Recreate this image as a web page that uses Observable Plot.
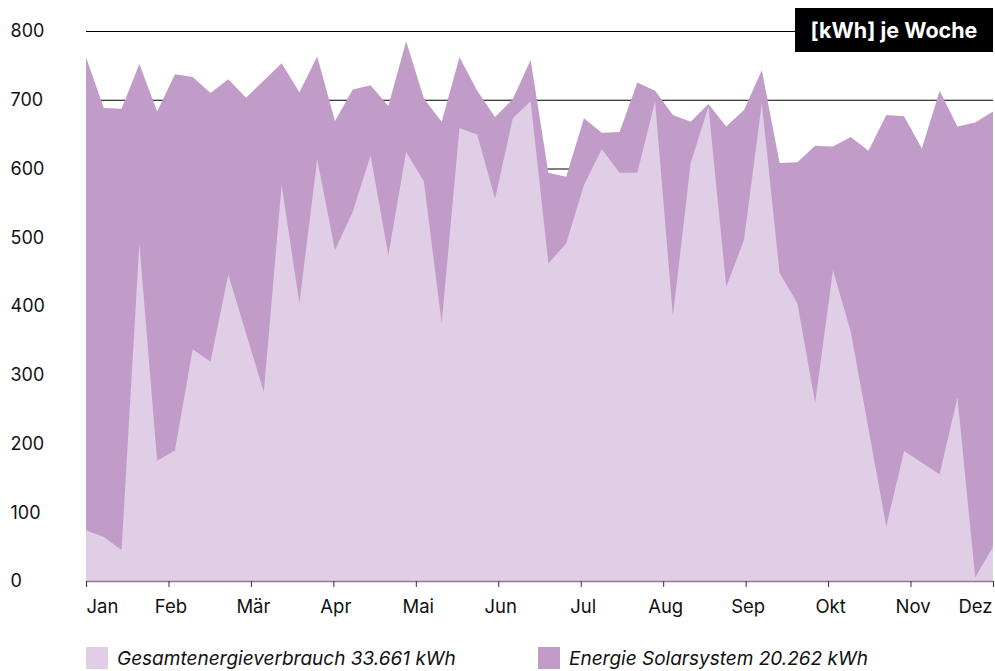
<!DOCTYPE html>
<html>
<head>
<meta charset="utf-8">
<script src="https://cdn.jsdelivr.net/npm/d3@7"></script>
<script src="https://cdn.jsdelivr.net/npm/@observablehq/plot@0.6"></script>
<style>
  body { margin: 0; background: #fff; font-family: Inter, "Open Sans", sans-serif; }
  #wrap { position: relative; width: 995px; height: 671px; overflow: hidden; }
  #title { position: absolute; left: 795px; top: 8px; width: 198px; height: 44px; background: #000; color: #fff;
           font-weight: 700; font-size: 21.5px; display: flex; align-items: center; justify-content: center; white-space: nowrap; }
  .leg { position: absolute; top: 647px; height: 22px; display: flex; align-items: center; font-style: italic; font-size: 19px; color: #111; white-space: nowrap; }
  .sw { width: 22px; height: 22px; margin-right: 9px; flex: none; }
</style>
</head>
<body>
<div id="wrap">
  <div id="chart"></div>
  <div id="title"></div>
  <div class="leg" id="leg1" style="left:86px"><div class="sw" id="sw1"></div><span id="lt1"></span></div>
  <div class="leg" id="leg2" style="left:538px"><div class="sw" id="sw2"></div><span id="lt2"></span></div>
</div>
<script>
// ---- data ----
const monthLabels = ["Jan","Feb","Mär","Apr","Mai","Jun","Jul","Aug","Sep","Okt","Nov","Dez"];
const yTicks = [0,100,200,300,400,500,600,700,800];
// weekly total (upper, darker area)
const totalWeekly = [762,688,687,752,683,737,733,710,730,703,728,753,711,763,669,715,721,691,785,702,668,762,713,675,701,758,594,588,673,652,653,725,713,678,668,694,661,685,743,608,609,633,632,646,626,678,676,629,713,661,667,683];
// weekly lower (lighter area)
const lowerWeekly = [74,64,45,491,175,190,337,319,446,360,275,576,404,613,481,537,619,474,624,581,375,659,649,556,673,698,462,491,576,628,594,594,698,385,608,690,428,496,695,448,404,259,452,363,221,79,189,172,155,267,5,50];
const titleText = "[kWh] je Woche";
const legendLabels = ["Gesamtenergieverbrauch 33.661 kWh", "Energie Solarsystem 20.262 kWh"];
const colors = { light: "#E0CEE6", dark: "#C29CC8" };

// ---- build ----
const data = totalWeekly.map((t, i) => ({ week: i, total: t, lower: lowerWeekly[i] }));
const nW = totalWeekly.length - 1;
const months = monthLabels.map((m, i) => ({ pos: i * nW / (monthLabels.length - 1), label: m }));
const fs = 18;
const fm = 18.5;

const chart = Plot.plot({
  width: 995,
  height: 621,
  marginTop: 31,
  marginBottom: 40,
  marginLeft: 86,
  marginRight: 2,
  x: { domain: [0, nW], axis: null },
  y: { domain: [0, 800], axis: null },
  style: { fontFamily: "Inter, 'Open Sans', sans-serif", fontSize: fs + "px", color: "#111", background: "#fff" },
  marks: [
    Plot.ruleY(yTicks.filter(d => d > 0), { y: d => d, stroke: "#000", strokeWidth: 1 }),
    Plot.areaY(data, { x: "week", y: "total", fill: colors.dark }),
    Plot.areaY(data, { x: "week", y: "lower", fill: colors.light }),
    Plot.ruleY([0], { y: d => d, stroke: "#8b7d8e", strokeWidth: 1.5 }),
    Plot.axisX({ ticks: months.map(d => d.pos), tickSize: 6, tickFormat: () => "", stroke: "#333", label: null }),
    Plot.text(months.slice(1, -1), { x: "pos", text: "label", frameAnchor: "bottom", dy: 31, dx: 2, textAnchor: "middle", fill: "#111", fontSize: fm }),
    Plot.text(months.slice(0, 1), { x: "pos", text: "label", frameAnchor: "bottom", dy: 31, textAnchor: "start", fill: "#111", fontSize: fm }),
    Plot.text(months.slice(-1), { x: "pos", text: "label", frameAnchor: "bottom", dy: 31, dx: -1, textAnchor: "end", fill: "#111", fontSize: fm }),
    Plot.text(yTicks, { y: d => d, text: d => String(d), frameAnchor: "left", dx: -76, textAnchor: "start", fill: "#111", fontSize: fs })
  ]
});
document.getElementById("chart").appendChild(chart);
document.getElementById("title").textContent = titleText;
document.getElementById("lt1").textContent = legendLabels[0];
document.getElementById("lt2").textContent = legendLabels[1];
document.getElementById("sw1").style.background = colors.light;
document.getElementById("sw2").style.background = colors.dark;
</script>
</body>
</html>
